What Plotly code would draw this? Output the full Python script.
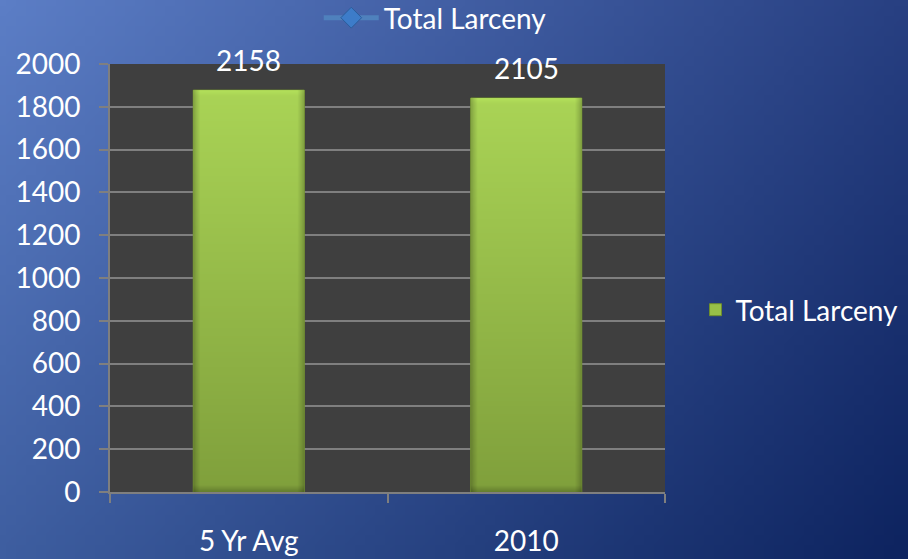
import base64, struct, zlib
import numpy as np
import plotly.graph_objects as go

# ---- data ----
categories = ["5 Yr Avg", "2010"]
bar_heights = [1878, 1841]          # drawn bar heights
label_values = [2158, 2105]         # data labels shown above the bars
series_name = "Total Larceny"
y_ticks = [0, 200, 400, 600, 800, 1000, 1200, 1400, 1600, 1800, 2000]


def png_uri(img):
    img = np.clip(img, 0, 255).astype(np.uint8)
    h, w, _ = img.shape
    raw = b"".join(b"\x00" + img[r].tobytes() for r in range(h))

    def chunk(t, d):
        c = struct.pack(">I", len(d)) + t + d
        return c + struct.pack(">I", zlib.crc32(t + d) & 0xffffffff)

    png = b"\x89PNG\r\n\x1a\n" + chunk(b"IHDR", struct.pack(">IIBBBBB", w, h, 8, 2, 0, 0, 0)) \
        + chunk(b"IDAT", zlib.compress(raw, 9)) + chunk(b"IEND", b"")
    return "data:image/png;base64," + base64.b64encode(png).decode()


def bilinear(w, h, tl, tr, bl, br):
    u = np.linspace(0, 1, w)[None, :, None]
    v = np.linspace(0, 1, h)[:, None, None]
    tl, tr, bl, br = [np.array(c, dtype=float)[None, None, :] for c in (tl, tr, bl, br)]
    return tl * (1 - u) * (1 - v) + tr * u * (1 - v) + bl * (1 - u) * v + br * u * v


bg_src = png_uri(bilinear(91, 56, (92, 126, 198), (40, 64, 130), (62, 94, 160), (14, 36, 96)))

# bar fill: vertical green gradient with slightly darker bevelled sides
bw, bh = 56, 200
bar_img = bilinear(bw, bh, (170, 212, 86), (170, 212, 86), (128, 160, 60), (128, 160, 60))
side = np.ones(bw)
side[:3] = [0.80, 0.88, 0.94]
side[-3:] = [0.94, 0.88, 0.80]
bar_img = bar_img * side[None, :, None]
bar_img[:3] *= np.array([1.05, 1.03, 1.01])[:, None, None]
bar_img[-3:] *= np.array([0.94, 0.88, 0.80])[:, None, None]
bar_src = png_uri(bar_img)

W, H = 908, 559
ml, mr, mt, mb = 110, 243, 64, 67
pw, ph = W - ml - mr, H - mt - mb

FONT = "Lato"
FS = 28
WHITE = "#ffffff"
GRID = "#7f7f7f"
BAR_W = 0.4

fig = go.Figure()
fig.add_trace(go.Bar(
    x=categories, y=bar_heights, name=series_name, width=BAR_W,
    marker=dict(color="#97c048", line=dict(color="#6f8f2c", width=1)),
    legend="legend", showlegend=True,
))
# legend-only entry for the line series shown at the top
fig.add_trace(go.Scatter(
    x=[None], y=[None], name=series_name, mode="lines+markers",
    line=dict(color="#4f81bd", width=5),
    marker=dict(symbol="diamond", size=16, color="#3d7cc9", line=dict(color="#2b5d9c", width=1)),
    legend="legend2", showlegend=True,
))

annotations = []
images = [dict(
    source=bg_src, xref="paper", yref="paper",
    x=-ml / pw, y=1 + mt / ph, sizex=W / pw, sizey=H / ph,
    xanchor="left", yanchor="top", sizing="stretch", layer="below",
)]
for i, (h, lab) in enumerate(zip(bar_heights, label_values)):
    annotations.append(dict(
        x=i, y=h, xref="x", yref="y", text=str(lab), showarrow=False,
        yanchor="middle", yshift=30,
        font=dict(family=FONT, size=FS, color=WHITE),
    ))
    images.append(dict(
        source=bar_src, xref="x", yref="y",
        x=i - BAR_W / 2, y=h, sizex=BAR_W, sizey=h,
        xanchor="left", yanchor="top", sizing="stretch", layer="above",
    ))

fig.update_layout(
    width=W, height=H,
    margin=dict(l=ml, r=mr, t=mt, b=mb, autoexpand=False),
    paper_bgcolor="#3a5a9e",
    plot_bgcolor="#3f3f3f",
    font=dict(family=FONT, size=FS, color=WHITE),
    images=images,
    shapes=[dict(
        type="rect", xref="x domain", yref="y domain", x0=0, x1=1, y0=0, y1=1,
        fillcolor="#3f3f3f", line=dict(width=0), layer="below",
    )],
    xaxis=dict(
        type="category", categoryorder="array", categoryarray=categories,
        range=[-0.5, len(categories) - 0.5], automargin=False,
        showgrid=False, showline=True, linecolor=GRID, linewidth=2,
        ticks="outside", tickson="boundaries", ticklen=9, tickcolor=GRID, tickwidth=2,
        tickfont=dict(family=FONT, size=FS, color=WHITE), tickangle=0,
        ticklabelstandoff=23, fixedrange=True,
    ),
    yaxis=dict(
        range=[0, 2000], tickvals=y_ticks, showgrid=True, gridcolor=GRID, gridwidth=1.5,
        showline=True, linecolor=GRID, linewidth=2, zeroline=False, automargin=False,
        ticks="outside", ticklen=9, tickcolor=GRID, tickwidth=2,
        tickfont=dict(family=FONT, size=FS, color=WHITE),
        ticklabelstandoff=13, fixedrange=True,
    ),
    legend=dict(
        x=1.055, y=(492 - 310) / ph, xanchor="left", yanchor="middle",
        bgcolor="rgba(0,0,0,0)", font=dict(family=FONT, size=FS, color=WHITE),
    ),
    legend2=dict(
        x=0.586, y=1 + 46 / ph, xanchor="center", yanchor="middle", orientation="h",
        bgcolor="rgba(0,0,0,0)", itemwidth=55,
        font=dict(family=FONT, size=FS, color=WHITE),
    ),
    annotations=annotations,
    showlegend=True,
)

fig.write_html("out.html", config=dict(displayModeBar=False),
               post_script="document.body.style.margin='0px';")
